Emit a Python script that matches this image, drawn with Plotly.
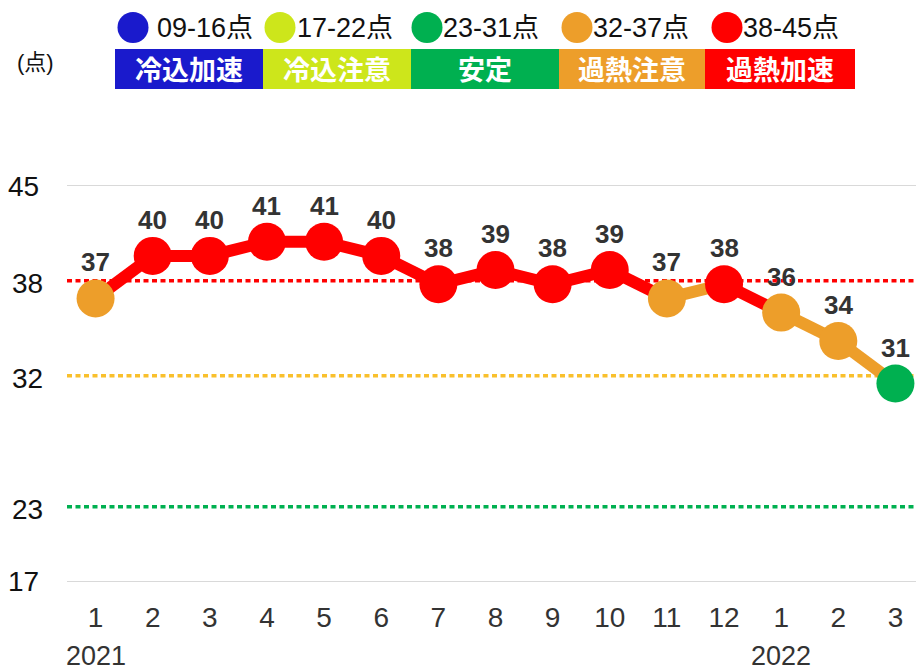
import plotly.graph_objects as go

# ---- data ----
months = ["1", "2", "3", "4", "5", "6", "7", "8", "9", "10", "11", "12", "1", "2", "3"]
years = ["2021", "2022"]
year_pos = [0, 12]
scores = [37, 40, 40, 41, 41, 40, 38, 39, 38, 39, 37, 38, 36, 34, 31]
level_ranges = ["09-16点", "17-22点", "23-31点", "32-37点", "38-45点"]
level_names = ["冷込加速", "冷込注意", "安定", "過熱注意", "過熱加速"]
level_upper = [16, 22, 31, 37, 45]
threshold_vals = [38.25, 31.55, 22.3]
threshold_text = ["38", "32", "23"]
axis_min, axis_max = 17, 45

# ---- style ----
level_colors = ["#1a1acc", "#cde61b", "#00b050", "#ed9e2a", "#ff0000"]
threshold_colors = ["#ff0000", "#f9c02c", "#00b050"]
seg_levels = [4, 4, 4, 4, 4, 4, 4, 4, 4, 4, 3, 4, 3, 3]

OFF = 8  # page body margin
W, H = 924 - OFF, 670 - OFF
PLOT_L, PLOT_T, PLOT_B = 67, 185, 582  # absolute page pixels
ML, MT = PLOT_L - OFF, PLOT_T - OFF
MR = 0
MB = H - (PLOT_B - OFF)
PW, PH = W - ML - MR, H - MT - MB
FONT = "Liberation Sans, Arial, Noto Sans CJK JP, sans-serif"
CJK = "Noto Sans CJK JP, sans-serif"


def px2x(px):
    return (px - OFF - ML) / PW


def px2y(py):
    return (PLOT_B - py) / PH


def level_of(v):
    for i, u in enumerate(level_upper):
        if v <= u:
            return i
    return len(level_upper) - 1


fig = go.Figure()
xs = list(range(len(scores)))

for i in range(len(scores) - 1):
    fig.add_trace(go.Scatter(
        x=[xs[i], xs[i + 1]], y=[scores[i], scores[i + 1]], mode="lines",
        line=dict(color=level_colors[seg_levels[i]], width=12),
        hoverinfo="skip", showlegend=False, cliponaxis=False))

fig.add_trace(go.Scatter(
    x=xs, y=scores, mode="markers",
    marker=dict(size=38, color=[level_colors[level_of(v)] for v in scores], line=dict(width=0)),
    showlegend=False, cliponaxis=False))

annotations = []
for x, v in zip(xs, scores):
    annotations.append(dict(x=x, y=v, xref="x", yref="y", text=str(v), showarrow=False,
                            xanchor="center", yanchor="middle", yshift=36,
                            font=dict(family=FONT, size=26, color="#333333", weight="bold")))

shapes = []
for v in [axis_min, axis_max]:
    shapes.append(dict(type="line", xref="paper", yref="y", x0=0, x1=1, y0=v, y1=v,
                       line=dict(color="#d9d9d9", width=2), layer="below"))
for v, c in zip(threshold_vals, threshold_colors):
    shapes.append(dict(type="line", xref="paper", yref="y", x0=0, x1=1, y0=v, y1=v,
                       line=dict(color=c, width=3.5, dash="5px,3.5px"), layer="below"))

# y-axis labels
ytick_vals = [axis_max] + threshold_vals + [axis_min]
ytick_text = [str(axis_max)] + threshold_text + [str(axis_min)]
ytick_right = [41, 45, 45, 45, 41]
ytick_shift = [-1, -3, -3, -3, 1]
for v, t, r, s in zip(ytick_vals, ytick_text, ytick_right, ytick_shift):
    annotations.append(dict(xref="paper", yref="y", x=px2x(r), y=v, yshift=s,
                            xanchor="right", yanchor="middle", showarrow=False,
                            text=t, font=dict(family=FONT, size=28, color="#111111")))

# legend
circle_cx = [133, 280, 427, 577, 727]
text_x = [155, 295, 441, 591, 741]
box_x = [115, 263, 411, 559, 705, 855]
for i in range(5):
    cx = circle_cx[i]
    shapes.append(dict(type="circle", xref="paper", yref="paper",
                       x0=px2x(cx - 15.5), x1=px2x(cx + 15.5), y0=px2y(43), y1=px2y(12),
                       fillcolor=level_colors[i], line=dict(width=0)))
    annotations.append(dict(xref="paper", yref="paper", x=px2x(text_x[i]), y=px2y(28),
                            xanchor="left", yanchor="middle", showarrow=False,
                            text=level_ranges[i], font=dict(family=FONT, size=27, color="#111111")))
    shapes.append(dict(type="rect", xref="paper", yref="paper",
                       x0=px2x(box_x[i]), x1=px2x(box_x[i + 1]), y0=px2y(89), y1=px2y(49),
                       fillcolor=level_colors[i], line=dict(width=0)))
    annotations.append(dict(xref="paper", yref="paper", x=px2x((box_x[i] + box_x[i + 1]) / 2), y=px2y(69),
                            xanchor="center", yanchor="middle", showarrow=False,
                            text=level_names[i], font=dict(family=CJK, size=27, color="#ffffff", weight="bold")))

annotations.append(dict(xref="paper", yref="paper", x=px2x(35), y=px2y(62),
                        xanchor="center", yanchor="middle", showarrow=False,
                        text="(点)", font=dict(family=FONT, size=22, color="#111111")))

for yr, p in zip(years, year_pos):
    annotations.append(dict(xref="x", yref="paper", x=p, y=px2y(656),
                            xanchor="center", yanchor="middle", showarrow=False,
                            text=yr, font=dict(family=FONT, size=27, color="#333333")))

fig.update_layout(
    width=W, height=H, autosize=False,
    margin=dict(l=ML, r=MR, t=MT, b=MB, pad=0),
    paper_bgcolor="white", plot_bgcolor="white",
    shapes=shapes, annotations=annotations,
    xaxis=dict(range=[-0.5, len(scores) - 0.5], tickvals=xs, ticktext=months,
               showgrid=False, zeroline=False, showline=False, ticks="",
               tickfont=dict(family=FONT, size=28, color="#333333"), ticklabelstandoff=16),
    yaxis=dict(range=[axis_min, axis_max], showticklabels=False,
               showgrid=False, zeroline=False, showline=False, ticks=""),
)

fig.write_html("out.html")
